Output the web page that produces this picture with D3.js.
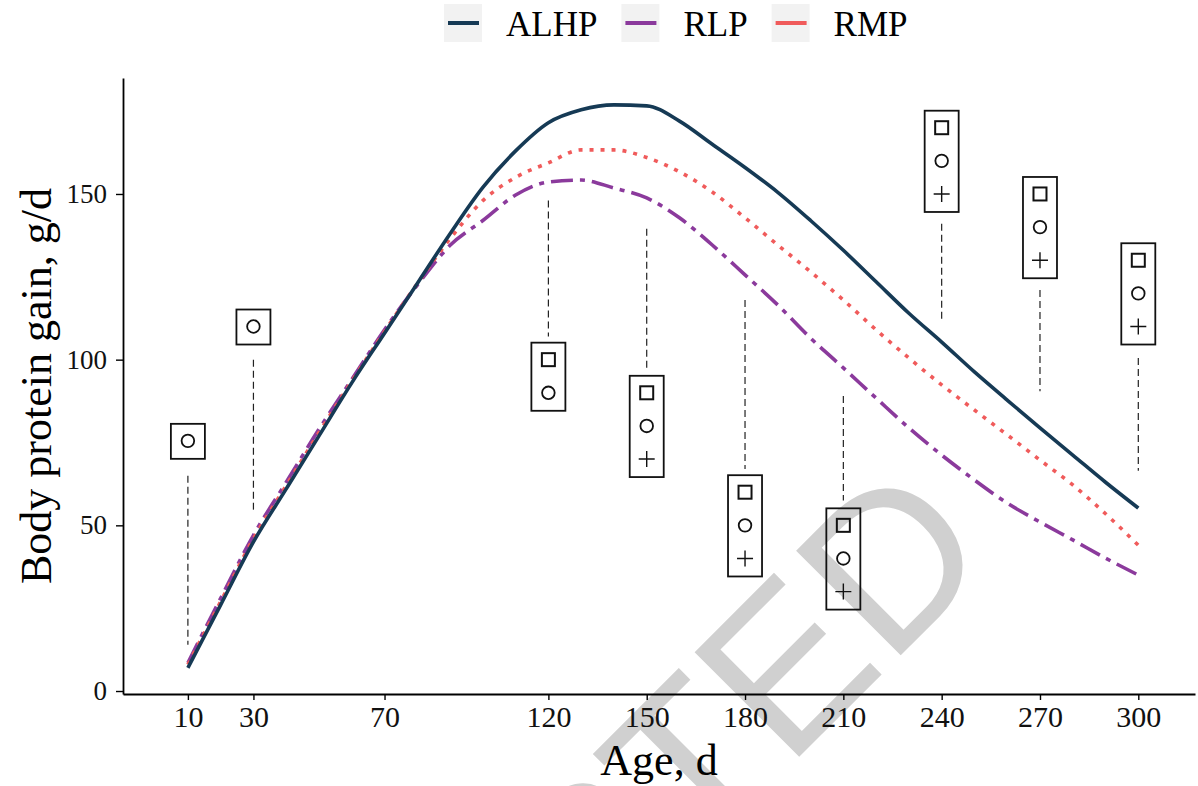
<!DOCTYPE html>
<html>
<head>
<meta charset="utf-8">
<script src="https://cdn.jsdelivr.net/npm/d3@7/dist/d3.min.js"></script>
<style>
  body { margin: 0; background: #fff; }
  svg { display: block; font-family: "Liberation Serif", "Times New Roman", serif; }
</style>
</head>
<body>
<script>
// chart data
const ages = [10, 20, 30, 40, 50, 60, 70, 80, 90, 100, 110, 120, 130, 140, 150, 160, 170, 180, 190, 200, 210, 220, 230, 240, 250, 260, 270, 280, 290, 300];
const alhp = [7, 26, 45, 61, 77, 93, 108, 123, 138, 152, 163, 171.5, 175.4, 176.9, 176.6, 172, 165, 158, 150.5, 142, 133, 123.5, 114, 105.3, 96.3, 87.8, 79.4, 71.2, 63, 55.2];
const rlp = [8.5, 28, 47, 63, 79, 94, 109, 122.5, 134.5, 142, 149.7, 153.6, 154.2, 151.8, 148.8, 142.8, 134.6, 125.6, 116.5, 106.5, 97.5, 88.4, 79.4, 71.2, 63.7, 56.7, 51, 45.6, 40.1, 35];
const rmp = [8, 27, 46, 62, 78, 93.5, 108.5, 123, 136.5, 148, 155, 159.4, 163.3, 163.3, 161, 156.7, 150.6, 142.8, 134.6, 126.5, 118, 109, 100.5, 92.4, 84.8, 77.3, 69.7, 62.2, 53.5, 44];

const seriesNames = ['ALHP', 'RLP', 'RMP'];
const seriesColors = ['#163a55', '#8b3a9c', '#f05b5b'];
const seriesDash = [null, '22,7,5,7', '4,7'];

const xTicks = [10, 30, 70, 120, 150, 180, 210, 240, 270, 300];
const yTicks = [0, 50, 100, 150];

// significance markers
const annoAge = [10, 30, 120, 150, 180, 210, 240, 270, 300];
const annoSquare = [null, null, 100, 90, 60, 50, 170, 150, 130];
const annoCircle = [75.5, 110, 90, 80, 50, 40, 160, 140, 120];
const annoPlus = [null, null, null, 70, 40, 30, 150, 130, 110];
const dashTop = [65, 100, 148, 139.5, 118, 89, 141, 121, 100.5];
const dashBottom = [14, 54, 107, 96.5, 67, 57.5, 112, 90.5, 66.5];

const width = 1198, height = 786;

const svg = d3.select('body').append('svg')
    .attr('width', width)
    .attr('height', height);

const x = d3.scaleLinear().domain([-9.8, 317.3]).range([123, 1195]);
const y = d3.scaleLinear().domain([-0.9, 185]).range([694, 78]);

// watermark (sits under everything)
svg.append('text')
    .attr('transform', 'translate(998,558) rotate(-45)')
    .attr('text-anchor', 'end')
    .style('font-family', '"Liberation Sans", Arial, sans-serif')
    .style('font-size', '215px')
    .style('fill', '#d0d0d0')
    .text('ACCEPTED');

// curves
const series = [alhp, rlp, rmp];
const line = d3.line()
    .x((d, i) => x(ages[i]))
    .y(d => y(d))
    .curve(d3.curveMonotoneX);

// draw RLP first, then RMP, then ALHP on top
[1, 2, 0].forEach(k => {
    svg.append('path')
        .datum(series[k])
        .attr('d', line)
        .style('fill', 'none')
        .style('stroke', seriesColors[k])
        .style('stroke-width', 3.6)
        .style('stroke-dasharray', seriesDash[k]);
});

// annotation boxes
const anno = annoAge.map((a, i) => ({
    age: a, sq: annoSquare[i], ci: annoCircle[i], pl: annoPlus[i],
    top: dashTop[i], bot: dashBottom[i]
}));

const ag = svg.selectAll('.anno').data(anno).enter().append('g').attr('class', 'anno');

ag.append('line')
    .attr('x1', d => x(d.age)).attr('x2', d => x(d.age))
    .attr('y1', d => y(d.top)).attr('y2', d => y(d.bot))
    .style('stroke', '#222')
    .style('stroke-width', 1.2)
    .style('stroke-dasharray', '7,4');

ag.append('rect')
    .attr('x', d => x(d.age) - 17)
    .attr('y', d => y(d.sq !== null ? d.sq : d.ci) - 17)
    .attr('width', 34)
    .attr('height', d => {
        let hi = d.sq !== null ? d.sq : d.ci;
        let lo = d.pl !== null ? d.pl : d.ci;
        return y(lo) - y(hi) + 35;
    })
    .style('fill', 'none')
    .style('stroke', '#111')
    .style('stroke-width', 1.8);

ag.filter(d => d.sq !== null).append('rect')
    .attr('x', d => x(d.age) - 6.5)
    .attr('y', d => y(d.sq) - 6.5)
    .attr('width', 13).attr('height', 13)
    .style('fill', 'none')
    .style('stroke', '#111')
    .style('stroke-width', 2);

ag.append('circle')
    .attr('cx', d => x(d.age))
    .attr('cy', d => y(d.ci))
    .attr('r', 6.3)
    .style('fill', 'none')
    .style('stroke', '#111')
    .style('stroke-width', 1.8);

ag.filter(d => d.pl !== null).append('path')
    .attr('d', d => {
        let cx = x(d.age), cy = y(d.pl);
        return `M${cx - 8},${cy}H${cx + 8}M${cx},${cy - 8}V${cy + 8}`;
    })
    .style('fill', 'none')
    .style('stroke', '#111')
    .style('stroke-width', 1.4);

// axes
const xAxis = svg.append('g')
    .attr('transform', 'translate(0,694)')
    .call(d3.axisBottom(x).tickValues(xTicks).tickSize(6).tickPadding(6).tickSizeOuter(0));
xAxis.select('.domain').style('stroke', '#000').style('stroke-width', 1.8);
xAxis.selectAll('.tick line').style('stroke', '#000').style('stroke-width', 1.4);
xAxis.selectAll('.tick text')
    .style('font-family', '"Liberation Serif", "Times New Roman", serif')
    .style('font-size', '30px')
    .style('fill', '#111');

const yAxis = svg.append('g')
    .attr('transform', 'translate(123,0)')
    .call(d3.axisLeft(y).tickValues(yTicks).tickSize(7).tickPadding(9).tickSizeOuter(0));
yAxis.select('.domain').style('stroke', '#000').style('stroke-width', 1.8);
yAxis.selectAll('.tick line').style('stroke', '#000').style('stroke-width', 1.4);
yAxis.selectAll('.tick text')
    .style('font-family', '"Liberation Serif", "Times New Roman", serif')
    .style('font-size', '27px')
    .style('fill', '#111');

// axis titles
svg.append('text')
    .attr('x', 659).attr('y', 775)
    .attr('text-anchor', 'middle')
    .style('font-size', '44px')
    .style('fill', '#000')
    .text('Age, d');

svg.append('text')
    .attr('transform', 'translate(51,386) rotate(-90)')
    .attr('text-anchor', 'middle')
    .style('font-size', '44px')
    .style('fill', '#000')
    .text('Body protein gain, g/d');

// legend
const legend = svg.append('g').attr('class', 'legend');
let lx = 444;
seriesNames.forEach((name, i) => {
    legend.append('rect')
        .attr('x', lx).attr('y', 4)
        .attr('width', 38).attr('height', 38)
        .style('fill', '#f2f2f2');
    legend.append('line')
        .attr('x1', lx + 4).attr('x2', lx + 35)
        .attr('y1', 23).attr('y2', 23)
        .style('stroke', seriesColors[i])
        .style('stroke-width', 4);
    let t = legend.append('text')
        .attr('x', lx + 62).attr('y', 36)
        .style('font-size', '35px')
        .style('fill', '#000')
        .text(name);
    lx += 62 + t.node().getComputedTextLength() + 24;
});
</script>
</body>
</html>
